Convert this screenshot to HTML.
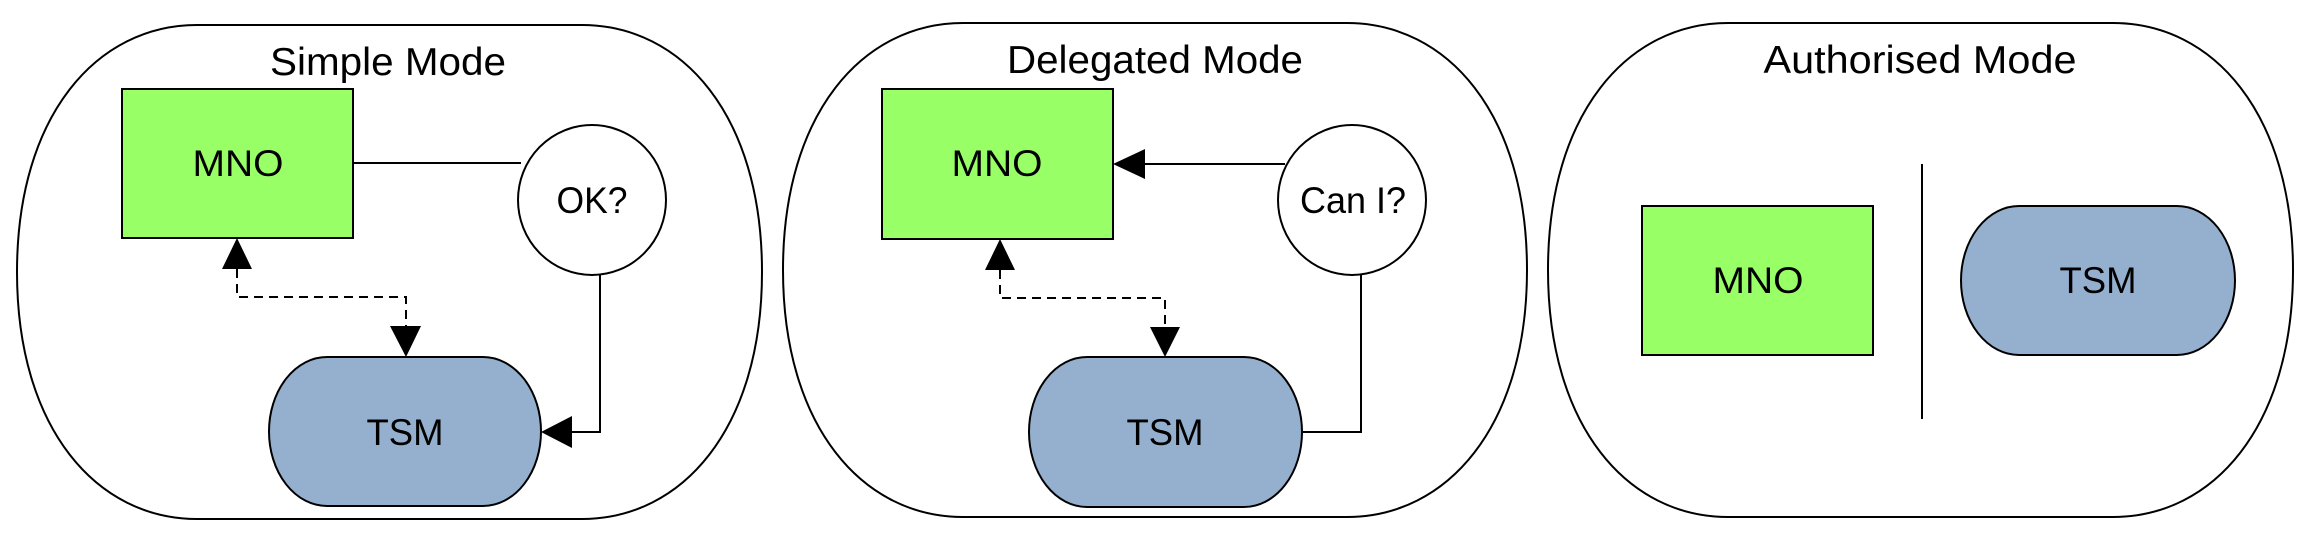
<!DOCTYPE html>
<html><head><meta charset="utf-8"><style>
html,body{margin:0;padding:0;background:#fff;}
svg{display:block;}
text{font-family:"Liberation Sans",sans-serif;fill:#000;}
</style></head><body>
<svg width="2309" height="546" viewBox="0 0 2309 546" xmlns="http://www.w3.org/2000/svg">
<g fill="none" stroke="#000" stroke-width="2">
<path d="M197,25 H582 C682,25 762,115 762,272 C762,429 682,519 582,519 H197 C97,519 17,429 17,272 C17,115 97,25 197,25 Z"/>
<path d="M963,23 H1347 C1447,23 1527,113 1527,270 C1527,427 1447,517 1347,517 H963 C863,517 783,427 783,270 C783,113 863,23 963,23 Z"/>
<path d="M1728,23 H2113 C2213,23 2293,113 2293,270 C2293,427 2213,517 2113,517 H1728 C1628,517 1548,427 1548,270 C1548,113 1628,23 1728,23 Z"/>
</g>
<g font-size="39" text-anchor="middle">
<text x="388" y="75" textLength="236" lengthAdjust="spacingAndGlyphs">Simple Mode</text>
<text x="1155" y="73" textLength="296" lengthAdjust="spacingAndGlyphs">Delegated Mode</text>
<text x="1920" y="73" textLength="313" lengthAdjust="spacingAndGlyphs">Authorised Mode</text>
</g>
<!-- Panel 1 -->
<g stroke="#000" stroke-width="2">
<rect x="122" y="89" width="231" height="149" fill="#99ff66"/>
<ellipse cx="592" cy="200" rx="74" ry="75" fill="#fff"/>
<path d="M327,357 H483 A58 74.5 0 0 1 541 431.5 A58 74.5 0 0 1 483 506 H327 A58 74.5 0 0 1 269 431.5 A58 74.5 0 0 1 327 357 Z" fill="#95afce"/>
<line x1="353" y1="163" x2="521" y2="163"/>
<polyline points="600,275 600,432 572,432" fill="none"/>
<path d="M237,269 V297 H406 V326" fill="none" stroke-dasharray="9,6"/>
</g>
<polygon points="541,432 572,416 572,448" fill="#000"/>
<polygon points="237,238 222,269 252,269" fill="#000"/>
<polygon points="406,357 390,326 421,326" fill="#000"/>
<!-- Panel 2 -->
<g stroke="#000" stroke-width="2">
<rect x="882" y="89" width="231" height="150" fill="#99ff66"/>
<ellipse cx="1352" cy="200" rx="74" ry="75" fill="#fff"/>
<path d="M1087,357 H1244 A58 75 0 0 1 1302 432 A58 75 0 0 1 1244 507 H1087 A58 75 0 0 1 1029 432 A58 75 0 0 1 1087 357 Z" fill="#95afce"/>
<line x1="1285" y1="164" x2="1145" y2="164"/>
<polyline points="1361,275 1361,432 1302,432" fill="none"/>
<path d="M1000,270 V298 H1165 V327" fill="none" stroke-dasharray="9,6"/>
</g>
<polygon points="1113,164 1145,149 1145,179" fill="#000"/>
<polygon points="1000,239 985,270 1015,270" fill="#000"/>
<polygon points="1165,357 1150,327 1180,327" fill="#000"/>
<!-- Panel 3 -->
<g stroke="#000" stroke-width="2">
<line x1="1922" y1="164" x2="1922" y2="419"/>
<rect x="1642" y="206" width="231" height="149" fill="#99ff66"/>
<path d="M2019,206 H2177 A58 74.5 0 0 1 2235 280.5 A58 74.5 0 0 1 2177 355 H2019 A58 74.5 0 0 1 1961 280.5 A58 74.5 0 0 1 2019 206 Z" fill="#95afce"/>
</g>
<g font-size="37" text-anchor="middle">
<text x="238" y="176" textLength="91" lengthAdjust="spacingAndGlyphs">MNO</text>
<text x="592" y="213" textLength="71" lengthAdjust="spacingAndGlyphs">OK?</text>
<text x="405" y="445" textLength="77" lengthAdjust="spacingAndGlyphs">TSM</text>
<text x="997" y="176" textLength="91" lengthAdjust="spacingAndGlyphs">MNO</text>
<text x="1353" y="213" textLength="106" lengthAdjust="spacingAndGlyphs">Can I?</text>
<text x="1165" y="445" textLength="77" lengthAdjust="spacingAndGlyphs">TSM</text>
<text x="1758" y="293" textLength="91" lengthAdjust="spacingAndGlyphs">MNO</text>
<text x="2098" y="293" textLength="77" lengthAdjust="spacingAndGlyphs">TSM</text>
</g>
</svg>
</body></html>
